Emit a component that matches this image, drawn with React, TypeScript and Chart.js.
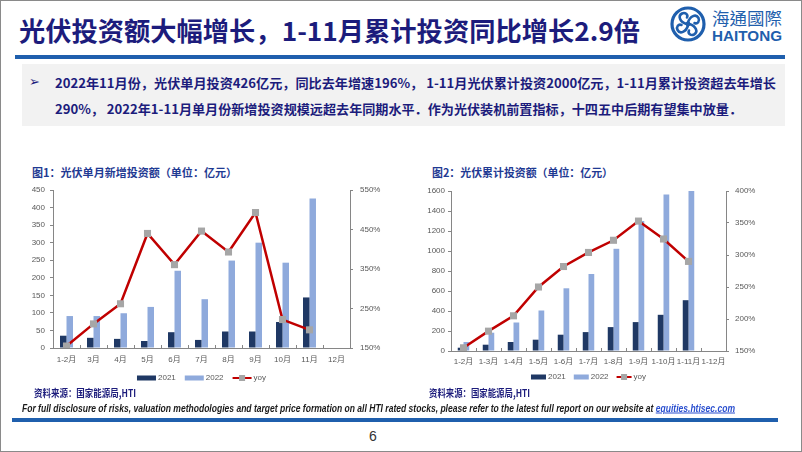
import React, { useEffect, useLayoutEffect, useRef } from "react";
import { Chart, registerables } from "chart.js";

Chart.register(...registerables);

// ---------- data ----------
const monthLabels = ["1-2月", "3月", "4月", "5月", "6月", "7月", "8月", "9月", "10月", "11月", "12月"];
const monthly2021 = [35, 29, 26, 20, 45, 23, 47, 47, 74, 144, null];
const monthly2022 = [91, 91, 99, 117, 220, 139, 249, 300, 243, 426, null];
const monthlyYoy = [155, 211, 262, 440, 361, 446, 393, 493, 222, 196, null];

const cumLabels = ["1-2月", "1-3月", "1-4月", "1-5月", "1-6月", "1-7月", "1-8月", "1-9月", "1-10月", "1-11月", "1-12月"];
const cum2021 = [33, 63, 90, 113, 163, 189, 239, 289, 362, 508, null];
const cum2022 = [90, 183, 285, 405, 627, 770, 1022, 1300, 1565, 2000, null];
const cumYoy = [155, 181, 205, 250, 282, 304, 323, 353, 325, 290, null];

const seriesNames = ["2021", "2022", "yoy"];

const NAVY = "#1f3864";
const LIGHT = "#8faadc";
const RED = "#c00000";
const MARK = "#a6a6a6";
const AXIS = "#868686";
const TICKTXT = "#595959";
const FONT = "'Liberation Sans', 'Noto Sans CJK SC', sans-serif";

// ---------- plugins ----------
const sketchPlugin = {
  id: "sketchDeco",
  afterDraw(chart: any, _args: any, opts: any) {
    const { ctx, chartArea } = chart;
    const xs = chart.scales.x;
    ctx.save();
    // inward x tick marks at category boundaries
    const n = chart.data.labels.length;
    const w = (chartArea.right - chartArea.left) / n;
    ctx.strokeStyle = AXIS;
    ctx.lineWidth = 1;
    for (let k = 1; k < n; k++) {
      const x = Math.round(xs.left + k * w) + 0.5;
      ctx.beginPath();
      ctx.moveTo(x, chartArea.bottom);
      ctx.lineTo(x, chartArea.bottom - 3);
      ctx.stroke();
    }
    // legend
    ctx.font = `${opts.fontSize}px ${FONT}`;
    ctx.textBaseline = "middle";
    ctx.textAlign = "left";
    const dss = chart.data.datasets;
    const widths = dss.map((d: any) => ctx.measureText(d.label).width);
    let total = 0;
    dss.forEach((_d: any, i: number) => {
      total += opts.swatch + opts.textGap + widths[i] + (i < dss.length - 1 ? opts.itemGap : 0);
    });
    let x = (chartArea.left + chartArea.right) / 2 - total / 2 + (opts.shift || 0);
    const y = chartArea.bottom + opts.offset;
    dss.forEach((d: any, i: number) => {
      if (d.type === "line") {
        ctx.strokeStyle = d.borderColor;
        ctx.lineWidth = 2;
        ctx.beginPath();
        ctx.moveTo(x, y);
        ctx.lineTo(x + opts.swatch, y);
        ctx.stroke();
        ctx.fillStyle = d.pointBackgroundColor;
        ctx.fillRect(x + opts.swatch / 2 - 3, y - 3, 6, 6);
      } else {
        ctx.fillStyle = d.backgroundColor;
        ctx.fillRect(x, y - 2.5, opts.swatch, 5);
      }
      x += opts.swatch + opts.textGap;
      ctx.fillStyle = TICKTXT;
      ctx.fillText(d.label, x, y);
      x += widths[i] + opts.itemGap;
    });
    ctx.restore();
  },
};

type Cfg = {
  left: number; top: number; width: number; height: number;
  labels: string[]; a: (number | null)[]; b: (number | null)[]; yoy: (number | null)[];
  yMax: number; yStep: number; rMin: number; rMax: number; rStep: number;
  leftW: number; rightW: number; padTop: number; padBottom: number; xH: number;
  lPad: number; rPad: number; xPad: number; cat: number;
  legendOffset: number; swatch: number; itemGap: number;
};

function ComboChart(p: Cfg) {
  const ref = useRef<HTMLCanvasElement>(null);
  useEffect(() => {
    if (!ref.current) return;
    const chart = new Chart(ref.current, {
      type: "bar",
      data: {
        labels: p.labels,
        datasets: [
          { type: "bar", label: seriesNames[0], data: p.a, backgroundColor: NAVY, yAxisID: "y", order: 1, categoryPercentage: p.cat, barPercentage: 1 } as any,
          { type: "bar", label: seriesNames[1], data: p.b, backgroundColor: LIGHT, yAxisID: "y", order: 1, categoryPercentage: p.cat, barPercentage: 1 } as any,
          {
            type: "line", label: seriesNames[2], data: p.yoy, yAxisID: "y1", order: 0,
            borderColor: RED, borderWidth: 2.5, pointStyle: "rect", pointRadius: 5,
            pointBackgroundColor: MARK, pointBorderColor: MARK, pointBorderWidth: 0, tension: 0, fill: false,
          } as any,
        ],
      },
      options: {
        responsive: false,
        animation: false,
        devicePixelRatio: 1,
        layout: { padding: { left: 0, right: 0, top: p.padTop, bottom: p.padBottom } },
        plugins: {
          legend: { display: false },
          tooltip: { enabled: false },
          sketchDeco: { fontSize: 8, swatch: p.swatch, textGap: 2, itemGap: p.itemGap, offset: p.legendOffset },
        } as any,
        scales: {
          x: {
            grid: { display: true, drawOnChartArea: false, drawTicks: false },
            border: { display: true, color: AXIS, width: 1 },
            ticks: { color: TICKTXT, font: { size: 8, family: FONT }, padding: p.xPad, maxRotation: 0, autoSkip: false },
            afterFit: (s: any) => { s.height = p.xH; },
          },
          y: {
            position: "left", min: 0, max: p.yMax,
            grid: { display: true, drawOnChartArea: false, drawTicks: true, tickLength: 3, color: AXIS },
            border: { display: true, color: AXIS, width: 1 },
            ticks: { stepSize: p.yStep, color: TICKTXT, font: { size: 8, family: FONT }, padding: p.lPad, callback: (v: any) => String(v) },
            afterFit: (s: any) => { s.width = p.leftW; },
          },
          y1: {
            position: "right", min: p.rMin, max: p.rMax,
            grid: { display: true, drawOnChartArea: false, drawTicks: true, tickLength: 3, color: AXIS },
            border: { display: true, color: AXIS, width: 1 },
            ticks: { stepSize: p.rStep, color: TICKTXT, font: { size: 8, family: FONT }, padding: p.rPad, callback: (v: any) => v + "%" },
            afterFit: (s: any) => { s.width = p.rightW; },
          },
        },
      },
      plugins: [sketchPlugin as any],
    });
    return () => chart.destroy();
  }, []);
  return (
    <canvas
      ref={ref}
      width={p.width}
      height={p.height}
      style={{ position: "absolute", left: p.left, top: p.top, width: p.width, height: p.height }}
    />
  );
}

function Fit(props: { left: number; cy: number; width: number; style?: React.CSSProperties; children: React.ReactNode }) {
  const ref = useRef<HTMLSpanElement>(null);
  useLayoutEffect(() => {
    const el = ref.current;
    if (!el) return;
    el.style.transform = "translateY(-50%)";
    const w = el.getBoundingClientRect().width;
    if (w > 0) el.style.transform = `translateY(-50%) scaleX(${props.width / w})`;
  });
  return (
    <span
      ref={ref}
      style={{
        position: "absolute", left: props.left, top: props.cy, whiteSpace: "nowrap",
        transformOrigin: "left center", lineHeight: 1, ...props.style,
      }}
    >
      {props.children}
    </span>
  );
}

const CJK = "'Noto Sans CJK SC', sans-serif";
const TITLE_C = "#1c1c7c";
const BLUE = "#1f5fad";

export default function App() {
  return (
    <div
      style={{
        position: "absolute", left: 0, top: 0, width: 802, height: 452, boxSizing: "border-box",
        border: "1px solid #8a8a8a", background: "#fff", overflow: "hidden",
      }}
    >
      <div style={{ position: "absolute", left: -1, top: -1, width: 802, height: 452 }}>
        {/* title */}
        <Fit left={19} cy={30} width={621} style={{ fontFamily: CJK, fontWeight: 700, fontSize: 26, color: TITLE_C }}>
          光伏投资额大幅增长，1-11月累计投资同比增长2.9倍
        </Fit>
        {/* logo */}
        <svg style={{ position: "absolute", left: 669, top: 5 }} width={38} height={38} viewBox="-19 -19 38 38">
          <circle r={16} fill="none" stroke={BLUE} strokeWidth={3.2} />
          {[0, 90, 180, 270].map((a) => (
            <path
              key={a}
              d="M0,-1.5 C2,-8 8,-10.5 10.5,-6 C12,-3 9.5,0.5 6.5,-1"
              fill="none"
              stroke={BLUE}
              strokeWidth={2.6}
              strokeLinecap="round"
              transform={`rotate(${a})`}
            />
          ))}
          <circle r={2.4} fill={BLUE} />
        </svg>
        <Fit left={712} cy={17} width={70} style={{ fontFamily: "'Noto Sans CJK TC', sans-serif", fontSize: 17, color: BLUE }}>
          海通國際
        </Fit>
        <Fit left={712} cy={35} width={70} style={{ fontFamily: "'Liberation Sans', sans-serif", fontWeight: 700, fontSize: 15, color: BLUE }}>
          HAITONG
        </Fit>
        {/* blue rule */}
        <div style={{ position: "absolute", left: 15, top: 55, width: 770, height: 4, background: BLUE }} />
        {/* grey box */}
        <div style={{ position: "absolute", left: 22, top: 64, width: 763, height: 62, background: "#f2f2f2" }} />
        <span style={{ position: "absolute", left: 29, top: 75, fontFamily: "'DejaVu Sans', sans-serif", fontSize: 13, color: TITLE_C, lineHeight: 1 }}>➢</span>
        <Fit left={55} cy={82} width={721} style={{ fontFamily: CJK, fontWeight: 700, fontSize: 13, color: TITLE_C }}>
          2022年11月份，光伏单月投资426亿元，同比去年增速196%， 1-11月光伏累计投资2000亿元，1-11月累计投资超去年增长
        </Fit>
        <Fit left={55} cy={108} width={687} style={{ fontFamily: CJK, fontWeight: 700, fontSize: 13, color: TITLE_C }}>
          290%， 2022年1-11月单月份新增投资规模远超去年同期水平．作为光伏装机前置指标，十四五中后期有望集中放量．
        </Fit>
        {/* chart titles */}
        <Fit left={32} cy={172} width={205} style={{ fontFamily: CJK, fontWeight: 700, fontSize: 11, color: "#1f3a93" }}>
          图1：光伏单月新增投资额（单位：亿元）
        </Fit>
        <Fit left={432} cy={172} width={181} style={{ fontFamily: CJK, fontWeight: 700, fontSize: 11, color: "#1f3a93" }}>
          图2：光伏累计投资额（单位：亿元）
        </Fit>
        {/* charts */}
        <ComboChart
          left={10} top={178} width={400} height={214}
          labels={monthLabels} a={monthly2021} b={monthly2022} yoy={monthlyYoy}
          yMax={450} yStep={50} rMin={150} rMax={550} rStep={100}
          leftW={43} rightW={60} padTop={12} padBottom={24} xH={20}
          lPad={5} rPad={7} xPad={7} cat={0.48}
          legendOffset={30} swatch={19} itemGap={9}
        />
        <ComboChart
          left={410} top={178} width={390} height={214}
          labels={cumLabels} a={cum2021} b={cum2022} yoy={cumYoy}
          yMax={1600} yStep={200} rMin={150} rMax={400} rStep={50}
          leftW={41} rightW={74} padTop={13} padBottom={21} xH={20}
          lPad={3} rPad={6} xPad={6} cat={0.46}
          legendOffset={26} swatch={15} itemGap={8}
        />
        {/* sources */}
        <Fit left={34} cy={393} width={102} style={{ fontFamily: CJK, fontWeight: 700, fontSize: 10, color: TITLE_C }}>
          资料来源：国家能源局,HTI
        </Fit>
        <Fit left={429} cy={393} width={101} style={{ fontFamily: CJK, fontWeight: 700, fontSize: 10, color: TITLE_C }}>
          资料来源：国家能源局,HTI
        </Fit>
        {/* footer */}
        <Fit left={22} cy={408} width={713} style={{ fontFamily: "'Liberation Sans', sans-serif", fontWeight: 700, fontStyle: "italic", fontSize: 11, color: "#1a1a1a" }}>
          For full disclosure of risks, valuation methodologies and target price formation on all HTI rated stocks, please refer to the latest full report on our website at{" "}
          <span style={{ color: "#2a4fcf", textDecoration: "underline" }}>equities.htisec.com</span>
        </Fit>
        <div style={{ position: "absolute", left: 12, top: 418, width: 766, height: 3.5, background: BLUE }} />
        <span style={{ position: "absolute", left: 369, top: 429, fontFamily: "'Liberation Sans', sans-serif", fontSize: 14, color: "#333", lineHeight: 1 }}>6</span>
      </div>
    </div>
  );
}
